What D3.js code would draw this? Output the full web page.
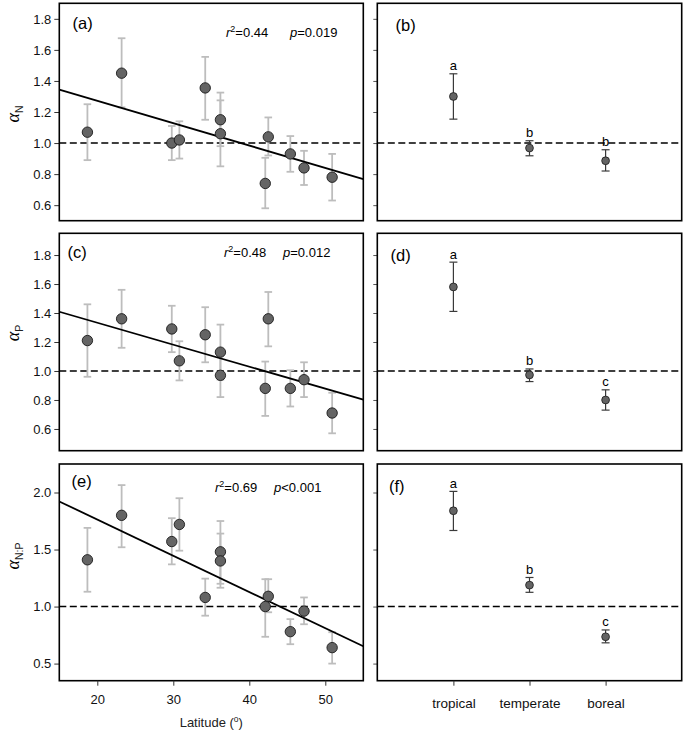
<!DOCTYPE html>
<html>
<head>
<meta charset="utf-8">
<script src="https://cdn.jsdelivr.net/npm/d3@7"></script>
<style>
  body { margin: 0; background: #fff; }
  text { font-family: Arial, "Liberation Sans", sans-serif; }
</style>
</head>
<body>
<div id="chart"></div>
<script>
// site latitudes, shared by panels a, c, e
var latitude = [18.7, 23.2, 29.8, 30.8, 34.2, 36.2, 36.2, 42.1, 42.5, 45.4, 47.2, 50.9];

// (a) alpha N
var alphaN    = [1.07, 1.45, 1.00, 1.02, 1.355, 1.15, 1.06, 0.74, 1.04, 0.93, 0.84, 0.78];
var alphaN_lo = [0.89, 1.23, 0.89, 0.90, 1.15, 0.98, 0.85, 0.58, 0.92, 0.815, 0.73, 0.63];
var alphaN_hi = [1.25, 1.675, 1.11, 1.14, 1.555, 1.325, 1.275, 0.905, 1.165, 1.045, 0.95, 0.93];
// (c) alpha P
var alphaP    = [1.21, 1.36, 1.29, 1.07, 1.25, 1.13, 0.97, 0.88, 1.36, 0.88, 0.94, 0.71];
var alphaP_lo = [0.96, 1.16, 1.13, 0.935, 1.06, 0.94, 0.82, 0.69, 1.17, 0.755, 0.82, 0.57];
var alphaP_hi = [1.46, 1.56, 1.45, 1.205, 1.44, 1.32, 1.12, 1.065, 1.545, 1.005, 1.06, 0.85];
// (e) alpha N:P
var alphaNP    = [1.41, 1.80, 1.57, 1.72, 1.08, 1.48, 1.40, 1.00, 1.09, 0.78, 0.96, 0.64];
var alphaNP_lo = [1.13, 1.52, 1.37, 1.49, 0.92, 1.20, 1.165, 0.735, 0.95, 0.67, 0.845, 0.50];
var alphaNP_hi = [1.69, 2.065, 1.775, 1.95, 1.245, 1.75, 1.64, 1.24, 1.24, 0.89, 1.08, 0.775];

// regression lines: [intercept, slope]
var fitN  = [1.561, -0.01443];
var fitP  = [1.636, -0.01515];
var fitNP = [2.398, -0.03175];

// biome means (b, d, f)
var zones = ["tropical", "temperate", "boreal"];
var zoneN     = [1.30, 0.968, 0.886];
var zoneN_lo  = [1.154, 0.918, 0.82];
var zoneN_hi  = [1.446, 1.015, 0.957];
var zoneN_grp = ["a", "b", "b"];
var zoneP     = [1.58, 0.973, 0.80];
var zoneP_lo  = [1.411, 0.927, 0.73];
var zoneP_hi  = [1.751, 1.014, 0.87];
var zoneP_grp = ["a", "b", "c"];
var zoneNP     = [1.84, 1.188, 0.735];
var zoneNP_lo  = [1.667, 1.125, 0.682];
var zoneNP_hi  = [2.01, 1.255, 0.795];
var zoneNP_grp = ["a", "b", "c"];

// tick values
var ticks1 = [0.6, 0.8, 1.0, 1.2, 1.4, 1.6, 1.8];
var ticks3 = [0.5, 1.0, 1.5, 2.0];
var latTicks = [20, 30, 40, 50];

var width = 685, height = 734;
var left = [59.3, 363.3], right = [377.3, 681.7];
var rows = [[3.3, 220.7], [233.3, 450.7], [464, 680.7]];

var svg = d3.select("#chart").append("svg")
  .attr("width", width)
  .attr("height", height);

var x = d3.scaleLinear().domain([15, 55]).range(left);
var xz = d3.scalePoint().domain(["", "tropical", "temperate", "boreal", " "]).range(right);

var panels = [
  {tag: "(a)", sub: "N", y: [0.5, 1.9], ticks: ticks1, v: alphaN, lo: alphaN_lo, hi: alphaN_hi,
   fit: fitN, r2: "0.44", p: "=0.019", z: zoneN, zlo: zoneN_lo, zhi: zoneN_hi, grp: zoneN_grp, ztag: "(b)",
   tagPos: [72.5, 29], statPos: [226, 36.5, 290], ztagPos: [395.5, 30.5], labY: 114},
  {tag: "(c)", sub: "P", y: [0.45, 1.95], ticks: ticks1, v: alphaP, lo: alphaP_lo, hi: alphaP_hi,
   fit: fitP, r2: "0.48", p: "=0.012", z: zoneP, zlo: zoneP_lo, zhi: zoneP_hi, grp: zoneP_grp, ztag: "(d)",
   tagPos: [67.5, 258], statPos: [224, 256.5, 283], ztagPos: [390.5, 260.5], labY: 333},
  {tag: "(e)", sub: "N:P", y: [0.35, 2.25], ticks: ticks3, v: alphaNP, lo: alphaNP_lo, hi: alphaNP_hi,
   fit: fitNP, r2: "0.69", p: "<0.001", z: zoneNP, zlo: zoneNP_lo, zhi: zoneNP_hi, grp: zoneNP_grp, ztag: "(f)",
   tagPos: [71.5, 486.5], statPos: [215, 492, 274], ztagPos: [389, 491.5], labY: 556}
];

panels.forEach(function(pn, i) {
  var y = d3.scaleLinear().domain(pn.y).range([rows[i][1], rows[i][0]]);

  // ---- left panel: latitude scatter ----
  var gl = svg.append("g");

  gl.append("g")
    .attr("transform", "translate(" + left[0] + ",0)")
    .call(d3.axisLeft(y).tickValues(pn.ticks).tickSize(5).tickPadding(3).tickFormat(d3.format(".1f")))
    .call(function(g) { g.select(".domain").remove(); })
    .call(function(g) {
      g.selectAll("text").attr("font-size", 13).attr("fill", "#111")
        .attr("font-family", "Arial, 'Liberation Sans', sans-serif");
      g.selectAll("line").attr("stroke", "#333");
    });

  // dashed reference at 1
  gl.append("line")
    .attr("x1", left[0]).attr("x2", left[1])
    .attr("y1", y(1)).attr("y2", y(1))
    .attr("stroke", "#000").attr("stroke-width", 1.6)
    .attr("stroke-dasharray", "7,3.5");

  // error bars
  var idx = d3.range(latitude.length);
  var eb = gl.selectAll(".eb").data(idx).enter().append("g")
    .attr("stroke", "#bdbdbd").attr("stroke-width", 1.8);
  eb.append("line")
    .attr("x1", function(d) { return x(latitude[d]); })
    .attr("x2", function(d) { return x(latitude[d]); })
    .attr("y1", function(d) { return y(pn.lo[d]); })
    .attr("y2", function(d) { return y(pn.hi[d]); });
  [pn.lo, pn.hi].forEach(function(arr) {
    eb.append("line")
      .attr("x1", function(d) { return x(latitude[d]) - 3.8; })
      .attr("x2", function(d) { return x(latitude[d]) + 3.8; })
      .attr("y1", function(d) { return y(arr[d]); })
      .attr("y2", function(d) { return y(arr[d]); });
  });

  // regression line
  var xd = x.domain();
  gl.append("line")
    .attr("x1", x(xd[0])).attr("x2", x(xd[1]))
    .attr("y1", y(pn.fit[0] + pn.fit[1] * xd[0]))
    .attr("y2", y(pn.fit[0] + pn.fit[1] * xd[1]))
    .attr("stroke", "#000").attr("stroke-width", 1.8);

  // points
  gl.selectAll(".pt").data(idx).enter().append("circle")
    .attr("cx", function(d) { return x(latitude[d]); })
    .attr("cy", function(d) { return y(pn.v[d]); })
    .attr("r", 5.2)
    .attr("fill", "#646464")
    .attr("stroke", "#1a1a1a").attr("stroke-width", 0.9);

  // frame
  gl.append("rect")
    .attr("x", left[0]).attr("y", rows[i][0])
    .attr("width", left[1] - left[0]).attr("height", rows[i][1] - rows[i][0])
    .attr("fill", "none").attr("stroke", "#000").attr("stroke-width", 1.6);

  // panel tag and stats
  gl.append("text").attr("x", pn.tagPos[0]).attr("y", pn.tagPos[1])
    .attr("font-size", 16.5).text(pn.tag);
  var st = gl.append("text").attr("x", pn.statPos[0]).attr("y", pn.statPos[1]).attr("font-size", 13);
  st.append("tspan").attr("font-style", "italic").text("r");
  st.append("tspan").attr("font-size", 9).attr("dy", -5).text("2");
  st.append("tspan").attr("dy", 5).text("=" + pn.r2);
  var sp = gl.append("text").attr("x", pn.statPos[2]).attr("y", pn.statPos[1]).attr("font-size", 13);
  sp.append("tspan").attr("font-style", "italic").text("p");
  sp.append("tspan").text(pn.p);

  // y axis title
  var yl = gl.append("text")
    .attr("transform", "translate(19," + pn.labY + ") rotate(-90)")
    .attr("text-anchor", "middle");
  yl.append("tspan").attr("font-family", "'Liberation Serif', 'DejaVu Serif', serif")
    .attr("font-style", "italic").attr("font-size", 18).text("α");
  yl.append("tspan").attr("font-size", 10.5).attr("dy", 4).attr("fill", "#222").text(pn.sub);

  // ---- right panel: biome means ----
  var gr = svg.append("g");

  gr.append("g")
    .attr("transform", "translate(" + right[0] + ",0)")
    .call(d3.axisLeft(y).tickValues(pn.ticks).tickSize(4).tickFormat(""))
    .call(function(g) { g.select(".domain").remove(); g.selectAll("line").attr("stroke", "#555"); });

  gr.append("line")
    .attr("x1", right[0]).attr("x2", right[1])
    .attr("y1", y(1)).attr("y2", y(1))
    .attr("stroke", "#000").attr("stroke-width", 1.6)
    .attr("stroke-dasharray", "7,3.5");

  var zi = d3.range(zones.length);
  var zb = gr.selectAll(".zb").data(zi).enter().append("g")
    .attr("stroke", "#3a3a3a").attr("stroke-width", 1.2);
  zb.append("line")
    .attr("x1", function(d) { return xz(zones[d]); })
    .attr("x2", function(d) { return xz(zones[d]); })
    .attr("y1", function(d) { return y(pn.zlo[d]); })
    .attr("y2", function(d) { return y(pn.zhi[d]); });
  [pn.zlo, pn.zhi].forEach(function(arr) {
    zb.append("line")
      .attr("x1", function(d) { return xz(zones[d]) - 4; })
      .attr("x2", function(d) { return xz(zones[d]) + 4; })
      .attr("y1", function(d) { return y(arr[d]); })
      .attr("y2", function(d) { return y(arr[d]); });
  });

  gr.selectAll(".zp").data(zi).enter().append("circle")
    .attr("cx", function(d) { return xz(zones[d]); })
    .attr("cy", function(d) { return y(pn.z[d]); })
    .attr("r", 3.9)
    .attr("fill", "#646464")
    .attr("stroke", "#1a1a1a").attr("stroke-width", 0.8);

  gr.selectAll(".zl").data(zi).enter().append("text")
    .attr("x", function(d) { return xz(zones[d]); })
    .attr("y", function(d) { return y(pn.zhi[d]) - 3.5; })
    .attr("text-anchor", "middle")
    .attr("font-size", 13)
    .text(function(d) { return pn.grp[d]; });

  gr.append("rect")
    .attr("x", right[0]).attr("y", rows[i][0])
    .attr("width", right[1] - right[0]).attr("height", rows[i][1] - rows[i][0])
    .attr("fill", "none").attr("stroke", "#000").attr("stroke-width", 1.6);

  gr.append("text").attr("x", pn.ztagPos[0]).attr("y", pn.ztagPos[1])
    .attr("font-size", 16.5).text(pn.ztag);
});

// bottom axes
svg.append("g")
  .attr("transform", "translate(0," + rows[2][1] + ")")
  .call(d3.axisBottom(x).tickValues(latTicks).tickSize(5).tickPadding(9))
  .call(function(g) {
    g.select(".domain").remove();
    g.selectAll("line").attr("stroke", "#333");
    g.selectAll("text").attr("font-size", 13).attr("fill", "#111")
      .attr("font-family", "Arial, 'Liberation Sans', sans-serif");
  });

svg.append("g")
  .attr("transform", "translate(0," + rows[2][1] + ")")
  .call(d3.axisBottom(xz).tickValues(zones).tickSize(5).tickPadding(13))
  .call(function(g) {
    g.select(".domain").remove();
    g.selectAll("line").attr("stroke", "#333");
    g.selectAll("text").attr("font-size", 13.5).attr("fill", "#111")
      .attr("font-family", "Arial, 'Liberation Sans', sans-serif");
  });

var xl = svg.append("text")
  .attr("x", (left[0] + left[1]) / 2).attr("y", 727)
  .attr("text-anchor", "middle").attr("font-size", 13).attr("fill", "#222");
xl.append("tspan").text("Latitude (");
xl.append("tspan").attr("font-size", 8.5).attr("dy", -5).text("o");
xl.append("tspan").attr("dy", 5).text(")");
</script>
</body>
</html>
